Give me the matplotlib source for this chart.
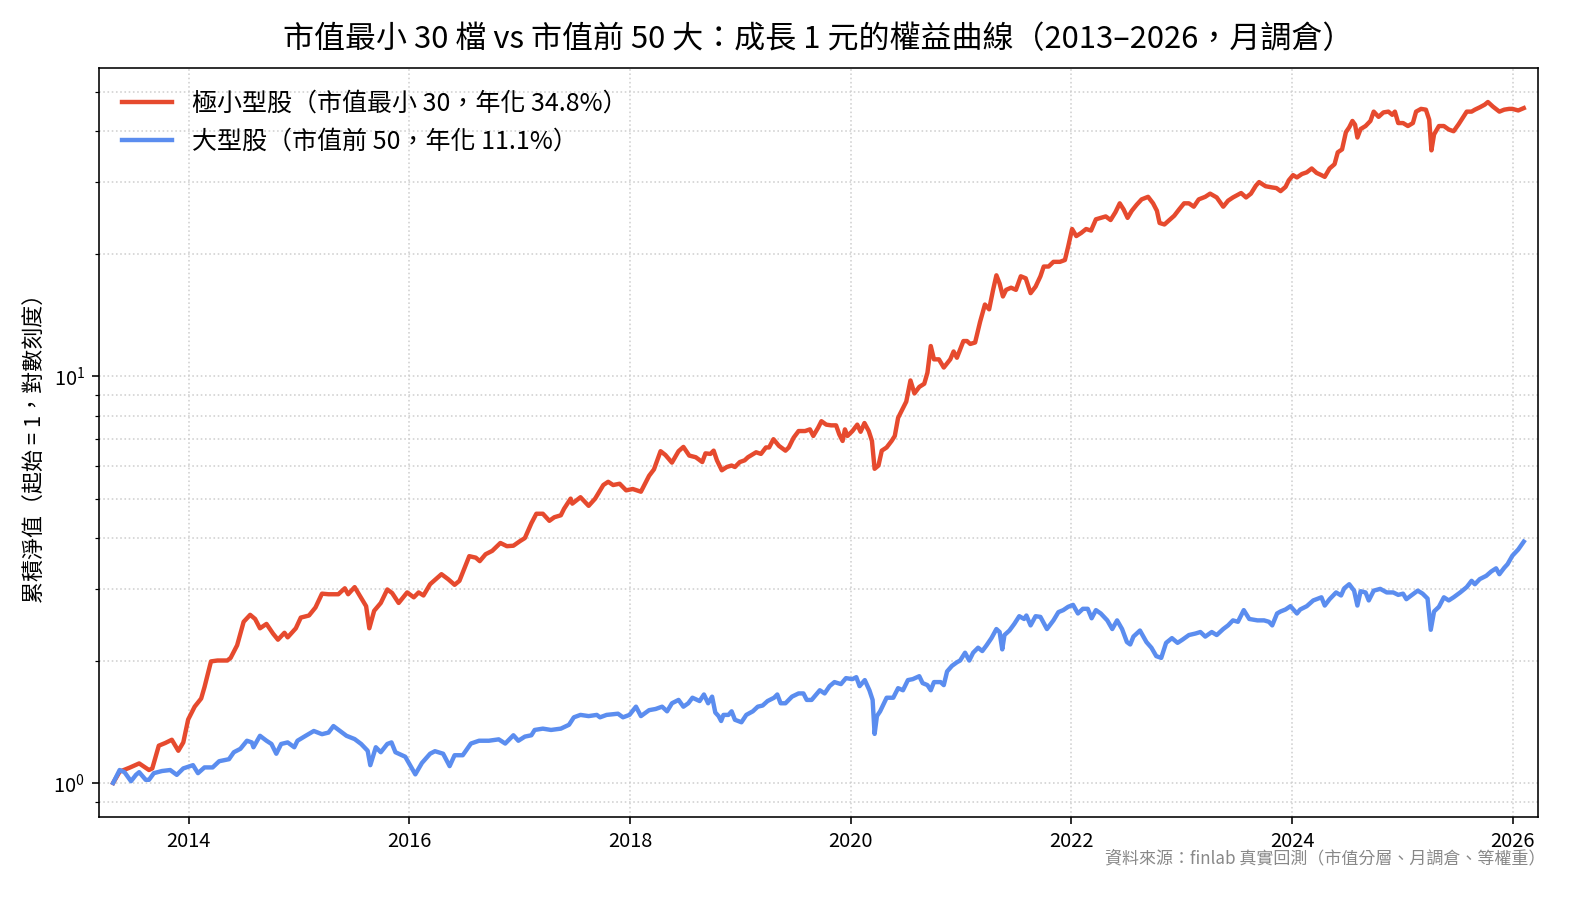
import matplotlib.pyplot as plt
from matplotlib.ticker import FormatStrFormatter, MultipleLocator

plt.rcParams["font.family"] = ["Noto Sans CJK TC", "DejaVu Sans"]
plt.rcParams["axes.unicode_minus"] = False

# 極小型股（市值最小 30）: 時間（小數年）與累積淨值
small_year = [
    2013.314, 2013.373, 2013.462, 2013.550, 2013.639, 2013.669, 2013.728, 2013.787,
    2013.846, 2013.905, 2013.950, 2013.994, 2014.053, 2014.112, 2014.142, 2014.201,
    2014.260, 2014.349, 2014.379, 2014.438, 2014.497, 2014.556, 2014.601, 2014.645,
    2014.704, 2014.763, 2014.808, 2014.867, 2014.896, 2014.970, 2015.015, 2015.089,
    2015.148, 2015.207, 2015.266, 2015.355, 2015.414, 2015.444, 2015.503, 2015.562,
    2015.607, 2015.636, 2015.680, 2015.740, 2015.799, 2015.843, 2015.902, 2015.979,
    2016.039, 2016.083, 2016.127, 2016.187, 2016.290, 2016.350, 2016.409, 2016.453,
    2016.542, 2016.601, 2016.637, 2016.690, 2016.750, 2016.824, 2016.883, 2016.942,
    2017.001, 2017.046, 2017.105, 2017.150, 2017.209, 2017.268, 2017.313, 2017.372,
    2017.401, 2017.461, 2017.476, 2017.550, 2017.624, 2017.683, 2017.757, 2017.801,
    2017.846, 2017.905, 2017.964, 2018.024, 2018.098, 2018.172, 2018.216, 2018.276,
    2018.320, 2018.379, 2018.439, 2018.483, 2018.536, 2018.595, 2018.654, 2018.683,
    2018.728, 2018.757, 2018.787, 2018.831, 2018.876, 2018.920, 2018.950, 2018.994,
    2019.038, 2019.068, 2019.142, 2019.186, 2019.231, 2019.260, 2019.299, 2019.349,
    2019.408, 2019.438, 2019.482, 2019.527, 2019.586, 2019.630, 2019.660, 2019.704,
    2019.734, 2019.778, 2019.822, 2019.867, 2019.896, 2019.926, 2019.947, 2019.970,
    2020.015, 2020.059, 2020.089, 2020.124, 2020.163, 2020.192, 2020.216, 2020.251,
    2020.281, 2020.325, 2020.370, 2020.399, 2020.429, 2020.473, 2020.503, 2020.541,
    2020.577, 2020.621, 2020.666, 2020.695, 2020.725, 2020.754, 2020.799, 2020.843,
    2020.902, 2020.932, 2020.962, 2021.021, 2021.053, 2021.083, 2021.127, 2021.172,
    2021.216, 2021.254, 2021.290, 2021.320, 2021.349, 2021.379, 2021.408, 2021.453,
    2021.497, 2021.541, 2021.586, 2021.630, 2021.675, 2021.719, 2021.749, 2021.793,
    2021.837, 2021.896, 2021.941, 2021.970, 2022.006, 2022.044, 2022.089, 2022.133,
    2022.178, 2022.222, 2022.266, 2022.311, 2022.355, 2022.399, 2022.438, 2022.473,
    2022.509, 2022.547, 2022.592, 2022.636, 2022.695, 2022.740, 2022.775, 2022.799,
    2022.843, 2022.888, 2022.932, 2022.976, 2023.021, 2023.065, 2023.109, 2023.154,
    2023.213, 2023.257, 2023.317, 2023.376, 2023.420, 2023.464, 2023.538, 2023.583,
    2023.627, 2023.672, 2023.701, 2023.760, 2023.820, 2023.858, 2023.896, 2023.941,
    2023.970, 2024.009, 2024.044, 2024.089, 2024.133, 2024.178, 2024.222, 2024.266,
    2024.296, 2024.340, 2024.385, 2024.414, 2024.453, 2024.488, 2024.518, 2024.547,
    2024.571, 2024.592, 2024.621, 2024.666, 2024.710, 2024.740, 2024.784, 2024.828,
    2024.873, 2024.908, 2024.932, 2024.962, 2025.006, 2025.050, 2025.095, 2025.124,
    2025.169, 2025.213, 2025.243, 2025.263, 2025.287, 2025.331, 2025.376, 2025.420,
    2025.464, 2025.509, 2025.553, 2025.583, 2025.627, 2025.657, 2025.701, 2025.746,
    2025.775, 2025.820, 2025.879, 2025.923, 2025.967, 2025.997, 2026.050, 2026.100,
]
small_nav = [
    1.00, 1.066, 1.09, 1.117, 1.076, 1.086, 1.235, 1.254,
    1.277, 1.20, 1.258, 1.432, 1.54, 1.613, 1.72, 1.99,
    2.00, 2.00, 2.03, 2.18, 2.49, 2.59, 2.53, 2.40,
    2.46, 2.33, 2.25, 2.34, 2.28, 2.40, 2.55, 2.58,
    2.70, 2.92, 2.91, 2.91, 3.01, 2.91, 3.03, 2.85,
    2.72, 2.40, 2.65, 2.77, 2.99, 2.93, 2.77, 2.94,
    2.86, 2.94, 2.89, 3.08, 3.26, 3.17, 3.07, 3.14,
    3.61, 3.58, 3.51, 3.65, 3.72, 3.89, 3.82, 3.83,
    3.93, 4.00, 4.35, 4.59, 4.59, 4.41, 4.50, 4.55,
    4.72, 5.00, 4.86, 5.04, 4.80, 5.00, 5.40, 5.50,
    5.40, 5.44, 5.24, 5.28, 5.20, 5.69, 5.90, 6.54,
    6.40, 6.13, 6.54, 6.70, 6.38, 6.32, 6.15, 6.46,
    6.44, 6.56, 6.21, 5.87, 5.98, 6.03, 5.98, 6.15,
    6.21, 6.32, 6.50, 6.44, 6.68, 6.68, 7.00, 6.74,
    6.56, 6.68, 7.06, 7.33, 7.33, 7.40, 7.13, 7.47,
    7.75, 7.60, 7.57, 7.57, 7.19, 6.93, 7.40, 7.13,
    7.33, 7.60, 7.30, 7.67, 7.33, 6.93, 5.92, 6.03,
    6.56, 6.68, 6.93, 7.13, 7.90, 8.34, 8.66, 9.76,
    9.07, 9.41, 9.58, 10.2, 11.86, 11.0, 11.0, 10.5,
    11.0, 11.5, 11.1, 12.2, 12.2, 12.0, 12.1, 13.6,
    15.0, 14.6, 16.3, 17.7, 16.9, 15.7, 16.3, 16.5,
    16.3, 17.6, 17.4, 16.0, 16.6, 17.6, 18.6, 18.6,
    19.1, 19.1, 19.3, 20.8, 23.0, 22.1, 22.5, 23.0,
    22.8, 24.3, 24.5, 24.7, 24.2, 25.3, 26.6, 25.7,
    24.5, 25.5, 26.4, 27.2, 27.6, 26.6, 25.5, 23.8,
    23.6, 24.2, 24.8, 25.7, 26.6, 26.6, 26.1, 27.2,
    27.6, 28.1, 27.5, 26.1, 27.0, 27.5, 28.2, 27.5,
    28.1, 29.4, 30.0, 29.3, 29.1, 29.0, 28.5, 29.2,
    30.3, 31.2, 30.8, 31.4, 31.7, 32.4, 31.6, 31.2,
    30.9, 32.4, 33.2, 35.5, 36.1, 39.8, 40.9, 42.4,
    41.5, 38.6, 40.5, 41.2, 42.4, 44.7, 43.4, 44.5,
    44.7, 43.9, 44.7, 41.9, 41.9, 41.2, 41.9, 44.7,
    45.4, 45.2, 42.7, 35.9, 39.3, 41.2, 41.2, 40.4,
    40.0, 41.6, 43.4, 44.7, 44.7, 45.2, 45.8, 46.5,
    47.2, 46.0, 44.7, 45.2, 45.4, 45.4, 45.0, 45.6,
]

# 大型股（市值前 50）
large_year = [
    2013.314, 2013.373, 2013.417, 2013.476, 2013.521, 2013.550, 2013.609, 2013.639,
    2013.683, 2013.757, 2013.831, 2013.891, 2013.950, 2014.038, 2014.083, 2014.142,
    2014.216, 2014.275, 2014.364, 2014.408, 2014.467, 2014.527, 2014.571, 2014.586,
    2014.645, 2014.704, 2014.749, 2014.793, 2014.837, 2014.896, 2014.956, 2014.985,
    2015.059, 2015.133, 2015.207, 2015.266, 2015.311, 2015.370, 2015.429, 2015.503,
    2015.562, 2015.621, 2015.645, 2015.695, 2015.740, 2015.799, 2015.837, 2015.873,
    2015.962, 2016.053, 2016.113, 2016.187, 2016.231, 2016.305, 2016.364, 2016.409,
    2016.483, 2016.557, 2016.631, 2016.720, 2016.809, 2016.868, 2016.942, 2016.987,
    2017.046, 2017.105, 2017.135, 2017.209, 2017.283, 2017.372, 2017.446, 2017.490,
    2017.550, 2017.624, 2017.698, 2017.727, 2017.787, 2017.890, 2017.935, 2017.994,
    2018.053, 2018.098, 2018.172, 2018.231, 2018.290, 2018.335, 2018.379, 2018.439,
    2018.483, 2018.527, 2018.565, 2018.630, 2018.669, 2018.707, 2018.743, 2018.772,
    2018.802, 2018.825, 2018.846, 2018.891, 2018.920, 2018.950, 2019.009, 2019.053,
    2019.112, 2019.157, 2019.201, 2019.246, 2019.305, 2019.334, 2019.364, 2019.408,
    2019.467, 2019.527, 2019.571, 2019.601, 2019.645, 2019.719, 2019.763, 2019.808,
    2019.852, 2019.911, 2019.956, 2020.015, 2020.050, 2020.080, 2020.127, 2020.169,
    2020.198, 2020.216, 2020.237, 2020.266, 2020.296, 2020.325, 2020.385, 2020.429,
    2020.473, 2020.518, 2020.562, 2020.621, 2020.651, 2020.695, 2020.725, 2020.754,
    2020.814, 2020.843, 2020.873, 2020.917, 2020.962, 2020.991, 2021.036, 2021.074,
    2021.109, 2021.154, 2021.192, 2021.231, 2021.275, 2021.320, 2021.349, 2021.373,
    2021.393, 2021.438, 2021.482, 2021.527, 2021.571, 2021.592, 2021.630, 2021.675,
    2021.719, 2021.778, 2021.837, 2021.882, 2021.926, 2021.970, 2022.015, 2022.059,
    2022.104, 2022.148, 2022.183, 2022.222, 2022.266, 2022.325, 2022.370, 2022.414,
    2022.459, 2022.503, 2022.533, 2022.562, 2022.621, 2022.680, 2022.725, 2022.769,
    2022.814, 2022.858, 2022.911, 2022.962, 2023.006, 2023.065, 2023.124, 2023.169,
    2023.213, 2023.272, 2023.317, 2023.376, 2023.420, 2023.464, 2023.509, 2023.562,
    2023.612, 2023.686, 2023.746, 2023.790, 2023.820, 2023.864, 2023.896, 2023.941,
    2023.985, 2024.044, 2024.074, 2024.133, 2024.192, 2024.266, 2024.296, 2024.340,
    2024.399, 2024.444, 2024.473, 2024.518, 2024.562, 2024.592, 2024.621, 2024.666,
    2024.695, 2024.740, 2024.799, 2024.858, 2024.917, 2024.962, 2025.006, 2025.036,
    2025.080, 2025.139, 2025.183, 2025.228, 2025.257, 2025.287, 2025.331, 2025.376,
    2025.420, 2025.464, 2025.524, 2025.583, 2025.627, 2025.657, 2025.701, 2025.760,
    2025.805, 2025.849, 2025.879, 2025.923, 2025.953, 2025.997, 2026.050, 2026.100,
]
large_nav = [
    1.00, 1.076, 1.063, 1.01, 1.047, 1.063, 1.018, 1.018,
    1.057, 1.07, 1.076, 1.047, 1.086, 1.106, 1.057, 1.092,
    1.092, 1.131, 1.144, 1.19, 1.213, 1.27, 1.258, 1.224,
    1.306, 1.27, 1.247, 1.18, 1.247, 1.258, 1.224, 1.27,
    1.306, 1.342, 1.318, 1.33, 1.38, 1.342, 1.306, 1.282,
    1.247, 1.20, 1.106, 1.224, 1.19, 1.247, 1.258, 1.19,
    1.16, 1.05, 1.12, 1.18, 1.197, 1.18, 1.10, 1.17,
    1.17, 1.25, 1.27, 1.27, 1.28, 1.25, 1.31, 1.27,
    1.30, 1.31, 1.35, 1.36, 1.35, 1.36, 1.39, 1.45,
    1.47, 1.46, 1.47, 1.45, 1.47, 1.48, 1.45, 1.47,
    1.54, 1.46, 1.51, 1.52, 1.54, 1.50, 1.57, 1.60,
    1.54, 1.57, 1.62, 1.59, 1.65, 1.57, 1.63, 1.49,
    1.46, 1.42, 1.47, 1.47, 1.50, 1.43, 1.41, 1.47,
    1.50, 1.54, 1.55, 1.59, 1.62, 1.65, 1.57, 1.57,
    1.63, 1.66, 1.66, 1.60, 1.60, 1.69, 1.66, 1.73,
    1.77, 1.75, 1.81, 1.80, 1.82, 1.73, 1.79, 1.69,
    1.60, 1.32, 1.46, 1.50, 1.56, 1.62, 1.62, 1.71,
    1.69, 1.79, 1.80, 1.83, 1.76, 1.74, 1.69, 1.77,
    1.77, 1.74, 1.88, 1.94, 1.98, 2.00, 2.09, 2.00,
    2.09, 2.15, 2.11, 2.18, 2.27, 2.39, 2.35, 2.13,
    2.31, 2.37, 2.46, 2.57, 2.53, 2.58, 2.44, 2.57,
    2.56, 2.39, 2.51, 2.63, 2.66, 2.71, 2.74, 2.61,
    2.68, 2.68, 2.54, 2.66, 2.61, 2.51, 2.39, 2.51,
    2.39, 2.22, 2.19, 2.29, 2.37, 2.22, 2.15, 2.05,
    2.03, 2.21, 2.27, 2.21, 2.25, 2.31, 2.33, 2.35,
    2.29, 2.35, 2.31, 2.39, 2.44, 2.51, 2.49, 2.66,
    2.53, 2.51, 2.51, 2.49, 2.44, 2.61, 2.64, 2.67,
    2.72, 2.61, 2.67, 2.72, 2.81, 2.86, 2.73, 2.83,
    2.94, 2.89, 3.01, 3.08, 2.97, 2.73, 2.96, 2.94,
    2.81, 2.97, 3.00, 2.94, 2.94, 2.90, 2.92, 2.83,
    2.89, 2.97, 2.92, 2.84, 2.38, 2.64, 2.71, 2.86,
    2.81, 2.86, 2.94, 3.03, 3.14, 3.08, 3.17, 3.23,
    3.31, 3.37, 3.26, 3.38, 3.45, 3.62, 3.75, 3.92,
]

small_cagr = 34.8
large_cagr = 11.1

fig, ax = plt.subplots(figsize=(1592 / 144, 899 / 144), dpi=144)
fig.subplots_adjust(left=0.0622, right=0.966, bottom=0.0912, top=0.9244)

ax.plot(small_year, small_nav, color="#e64a2e", linewidth=2.2,
        label=f"極小型股（市值最小 30，年化 {small_cagr}%）")
ax.plot(large_year, large_nav, color="#5b8def", linewidth=2.2,
        label=f"大型股（市值前 50，年化 {large_cagr}%）")

ax.set_yscale("log")
ax.margins(x=0.01)
ax.xaxis.set_major_locator(MultipleLocator(2))
ax.xaxis.set_major_formatter(FormatStrFormatter("%d"))
ax.grid(True, which="both", linestyle=":", linewidth=0.8, color="#d0d0d0")
ax.tick_params(labelsize=10)

ax.set_title("市值最小 30 檔 vs 市值前 50 大：成長 1 元的權益曲線（2013–2026，月調倉）",
             fontsize=15.5, pad=10)
ax.set_ylabel("累積淨值（起始 = 1，對數刻度）", fontsize=11)
ax.legend(loc="upper left", frameon=False, fontsize=12.5)

fig.text(0.9705, 0.0456, "資料來源：finlab 真實回測（市值分層、月調倉、等權重）",
         ha="right", va="center", fontsize=8.5, color="#888888")

fig.savefig("out.png", dpi=144)
